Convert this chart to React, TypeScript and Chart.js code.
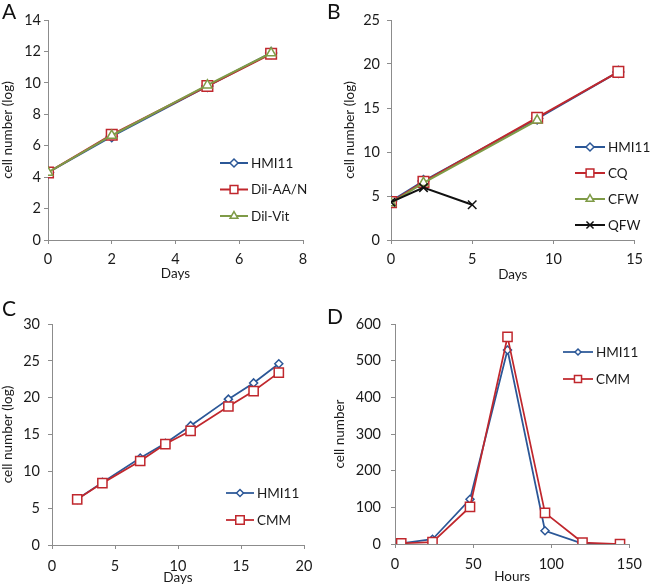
import React, { useEffect, useRef } from 'react';
import { Chart, registerables } from 'chart.js';
import { drawPoint } from 'chart.js/helpers';
Chart.register(...registerables);

const FONT = 'Lato, "Open Sans", sans-serif';
const BLUE = '#2B5797';
const RED = '#C0272D';
const GREEN = '#7F9B47';
const BLACK = '#111111';
const AXIS = '#8C8C8C';
const TEXT = '#1a1a1a';
const TICK_SIZE = 14.5;
const TITLE_SIZE = 13.5;

// Panel A
const daysA = [0, 2, 5, 7];
const hmiA = [4.3, 6.6, 9.8, 11.9];
const dilAAN = [4.3, 6.7, 9.8, 11.85];
const dilVit = [4.3, 6.65, 9.85, 11.9];

// Panel B
const daysB = [0, 2, 9, 14];
const hmiB = [4.4, 6.7, 13.8, 19.1];
const cqB = [4.3, 6.6, 13.9, 19.1];
const daysCFW = [0, 2, 9];
const cfwB = [4.2, 6.5, 13.6];
const daysQFW = [0, 2, 5];
const qfwB = [4.3, 5.95, 4.0];

// Panel C
const daysC = [2, 4, 7, 9, 11, 14, 16, 18];
const hmiC = [6.2, 8.5, 11.8, 13.8, 16.2, 19.8, 22.0, 24.6];
const cmmC = [6.2, 8.4, 11.4, 13.7, 15.5, 18.8, 20.9, 23.4];

// Panel D
const hoursD = [4, 24, 48, 72, 96, 120, 144];
const hmiD = [2, 13, 122, 529, 36, 1, 0];
const cmmD = [2, 5, 101, 565, 85, 4, 0];

const insideLegend = {
  id: 'insideLegend',
  afterDatasetsDraw(chart: any, _args: any, opts: any) {
    if (!opts || opts.x === undefined) return;
    const ctx = chart.ctx;
    ctx.save();
    chart.data.datasets.forEach((ds: any, i: number) => {
      const y = opts.y + i * opts.spacing;
      ctx.strokeStyle = ds.borderColor;
      ctx.lineWidth = ds.borderWidth;
      ctx.beginPath();
      ctx.moveTo(opts.x, y);
      ctx.lineTo(opts.x + opts.lineLen, y);
      ctx.stroke();
      ctx.fillStyle = '#ffffff';
      ctx.strokeStyle = ds.borderColor;
      ctx.lineWidth = ds.pointBorderWidth;
      drawPoint(ctx, { pointStyle: ds.pointStyle, rotation: 0, radius: opts.radii[i], borderWidth: ds.pointBorderWidth }, opts.x + opts.lineLen / 2, y);
      ctx.fillStyle = TEXT;
      ctx.font = `${TITLE_SIZE}px ${FONT}`;
      ctx.textBaseline = 'middle';
      ctx.textAlign = 'left';
      ctx.fillText(ds.label, opts.x + opts.lineLen + 3, y + 0.5);
    });
    ctx.restore();
  },
};

type Series = { label: string; xs: number[]; ys: number[]; color: string; style: string; r: number; lw: number };

type PanelCfg = {
  letter: string;
  letterTop: number;
  left: number;
  top: number;
  w: number;
  h: number;
  pad: { left: number; right: number; top: number; bottom: number };
  yW: number;
  xH: number;
  yTickPad: number;
  xTickPad: number;
  x: { min: number; max: number; step: number; title: string };
  y: { min: number; max: number; step: number; title: string };
  series: Series[];
  legend: { x: number; y: number; spacing: number; lineLen: number; radii: number[] };
};

const panels: PanelCfg[] = [
  {
    letter: 'A', letterTop: 0, left: 0, top: 0, w: 325, h: 290,
    pad: { left: 0, right: 22, top: 20, bottom: 8 }, yW: 48, xH: 42, yTickPad: 3, xTickPad: 7,
    x: { min: 0, max: 8, step: 2, title: 'Days' },
    y: { min: 0, max: 14, step: 2, title: 'cell number (log)' },
    series: [
      { label: 'HMI11', xs: daysA, ys: hmiA, color: BLUE, style: 'rectRot', r: 5.5, lw: 2 },
      { label: 'Dil-AA/N', xs: daysA, ys: dilAAN, color: RED, style: 'rect', r: 7.5, lw: 2 },
      { label: 'Dil-Vit', xs: daysA, ys: dilVit, color: GREEN, style: 'triangle', r: 5.5, lw: 2 },
    ],
    legend: { x: 220, y: 163, spacing: 26.5, lineLen: 28, radii: [4, 5.5, 4.5] },
  },
  {
    letter: 'B', letterTop: 0, left: 325, top: 0, w: 325, h: 290,
    pad: { left: 17, right: 8, top: 20, bottom: 7 }, yW: 49, xH: 43, yTickPad: 7, xTickPad: 7,
    x: { min: 0, max: 15, step: 5, title: 'Days' },
    y: { min: 0, max: 25, step: 5, title: 'cell number (log)' },
    series: [
      { label: 'HMI11', xs: daysB, ys: hmiB, color: BLUE, style: 'rectRot', r: 5.5, lw: 2 },
      { label: 'CQ', xs: daysB, ys: cqB, color: RED, style: 'rect', r: 7.5, lw: 2 },
      { label: 'CFW', xs: daysCFW, ys: cfwB, color: GREEN, style: 'triangle', r: 5.5, lw: 2 },
      { label: 'QFW', xs: daysQFW, ys: qfwB, color: BLACK, style: 'crossRot', r: 6, lw: 2 },
    ],
    legend: { x: 250, y: 147, spacing: 26, lineLen: 30, radii: [4, 5.5, 4.5, 5] },
  },
  {
    letter: 'C', letterTop: 297, left: 0, top: 290, w: 325, h: 296,
    pad: { left: 0, right: 21, top: 34, bottom: 0 }, yW: 52, xH: 41, yTickPad: 8, xTickPad: 9,
    x: { min: 0, max: 20, step: 5, title: 'Days' },
    y: { min: 0, max: 30, step: 5, title: 'cell number (log)' },
    series: [
      { label: 'HMI11', xs: daysC, ys: hmiC, color: BLUE, style: 'rectRot', r: 4, lw: 1.75 },
      { label: 'CMM', xs: daysC, ys: cmmC, color: RED, style: 'rect', r: 6.5, lw: 1.75 },
    ],
    legend: { x: 226, y: 203, spacing: 27, lineLen: 28, radii: [3.5, 6] },
  },
  {
    letter: 'D', letterTop: 305, left: 325, top: 290, w: 325, h: 296,
    pad: { left: 7, right: 12, top: 34, bottom: 1 }, yW: 63, xH: 41, yTickPad: 10, xTickPad: 8,
    x: { min: 0, max: 150, step: 50, title: 'Hours' },
    y: { min: 0, max: 600, step: 100, title: 'cell number' },
    series: [
      { label: 'HMI11', xs: hoursD, ys: hmiD, color: BLUE, style: 'rectRot', r: 4, lw: 1.75 },
      { label: 'CMM', xs: hoursD, ys: cmmD, color: RED, style: 'rect', r: 6.5, lw: 1.75 },
    ],
    legend: { x: 238, y: 62, spacing: 27, lineLen: 30, radii: [3, 5] },
  },
];

function Panel({ cfg }: { cfg: PanelCfg }) {
  const ref = useRef<HTMLCanvasElement>(null);
  useEffect(() => {
    if (!ref.current) return;
    const n = cfg.series.length;
    const chart = new Chart(ref.current, {
      type: 'line',
      data: {
        datasets: cfg.series.map((s, i) => ({
          label: s.label,
          data: s.xs.map((x, j) => ({ x, y: s.ys[j] })),
          borderColor: s.color,
          backgroundColor: '#ffffff',
          borderWidth: s.lw,
          pointStyle: s.style,
          pointRadius: s.r,
          pointBorderWidth: 1.5,
          pointBorderColor: s.color,
          pointBackgroundColor: '#ffffff',
          tension: 0,
          fill: false,
          order: n - i,
        })) as any,
      },
      options: {
        responsive: false,
        animation: false,
        devicePixelRatio: 1,
        layout: { padding: cfg.pad },
        plugins: {
          legend: { display: false },
          tooltip: { enabled: false },
          insideLegend: cfg.legend,
        } as any,
        scales: {
          x: {
            type: 'linear',
            position: 'bottom',
            min: cfg.x.min,
            max: cfg.x.max,
            afterFit: (s: any) => { s.height = cfg.xH; },
            ticks: { stepSize: cfg.x.step, color: TEXT, font: { family: FONT, size: TICK_SIZE }, padding: cfg.xTickPad, maxRotation: 0 },
            grid: { drawOnChartArea: false, drawTicks: true, tickLength: 4, color: AXIS, lineWidth: 1 },
            border: { display: true, color: AXIS, width: 1 },
            title: { display: true, text: cfg.x.title, color: TEXT, font: { family: FONT, size: TITLE_SIZE }, padding: 0 },
          },
          y: {
            type: 'linear',
            position: 'left',
            min: cfg.y.min,
            max: cfg.y.max,
            afterFit: (s: any) => { s.width = cfg.yW; },
            ticks: { stepSize: cfg.y.step, color: TEXT, font: { family: FONT, size: TICK_SIZE }, padding: cfg.yTickPad },
            grid: { drawOnChartArea: false, drawTicks: true, tickLength: 4, color: AXIS, lineWidth: 1 },
            border: { display: true, color: AXIS, width: 1 },
            title: { display: true, text: cfg.y.title, color: TEXT, font: { family: FONT, size: TITLE_SIZE }, padding: 0 },
          },
        },
      } as any,
      plugins: [insideLegend as any],
    });
    return () => chart.destroy();
  }, [cfg]);
  return (
    <>
      <canvas
        ref={ref}
        width={cfg.w}
        height={cfg.h}
        style={{ position: 'absolute', left: cfg.left, top: cfg.top, width: cfg.w, height: cfg.h }}
      />
      <div
        style={{
          position: 'absolute',
          left: cfg.left + 2,
          top: cfg.letterTop,
          fontFamily: FONT,
          fontSize: 21,
          lineHeight: '21px',
          color: '#111',
        }}
      >
        {cfg.letter}
      </div>
    </>
  );
}

export default function App() {
  return (
    <div style={{ position: 'absolute', left: 0, top: 0, width: 650, height: 586, background: '#ffffff', overflow: 'hidden' }}>
      {panels.map((p) => (
        <Panel key={p.letter} cfg={p} />
      ))}
    </div>
  );
}
